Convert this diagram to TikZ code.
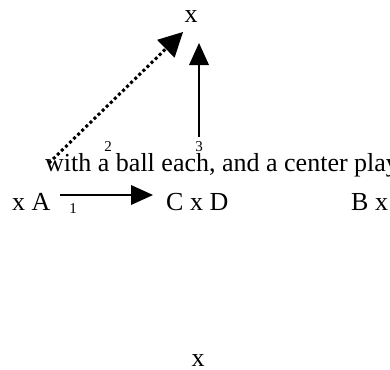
\documentclass[tikz,border=0pt]{standalone}
\usepackage{fontspec}
\setmainfont{Liberation Serif}
\usetikzlibrary{arrows.meta}
\begin{document}
\begin{tikzpicture}[x=1pt,y=-1pt,
  txt/.style={inner sep=0pt,anchor=base west,font=\fontsize{26}{28}\selectfont},
  txtc/.style={inner sep=0pt,anchor=base,font=\fontsize{26}{28}\selectfont},
  lbl/.style={inner sep=0pt,anchor=base,font=\fontsize{15}{17}\selectfont},
  solidarrow/.style={line width=1.5pt,-{Triangle[length=22pt,width=20pt,line width=0pt]}},
  dotarrow/.style={line width=3pt,dash pattern=on 3pt off 2.7pt,-{Triangle[length=24pt,width=25pt,line width=0pt]}}]
\useasboundingbox (0,0) rectangle (390,369);
\clip (0,0) rectangle (390,369);
\node[txtc] (xtop) at (191,23) {x};
\node[txt] (line1) at (45,171) {with a ball each, and a center play};
\node[txt] (xa) at (12,210) {x A};
\node[txt] (cxd) at (166,210) {C x D};
\node[txt] (bx) at (351,210) {B x};
\node[txtc] (xbot) at (198,366) {x};
\node[lbl] (l1) at (73,213) {1};
\node[lbl] (l2) at (108,151) {2};
\node[lbl] (l3) at (199,151) {3};
\coordinate (a1s) at (60,195);
\coordinate (a1e) at (153,195);
\coordinate (a2s) at (49,163);
\coordinate (a2e) at (183,32);
\coordinate (a3s) at (199,137);
\coordinate (a3e) at (199,43);
\draw[solidarrow] (a1s) -- (a1e);
\draw[dotarrow] (a2s) -- (a2e);
\draw[solidarrow] (a3s) -- (a3e);
\end{tikzpicture}
\end{document}
